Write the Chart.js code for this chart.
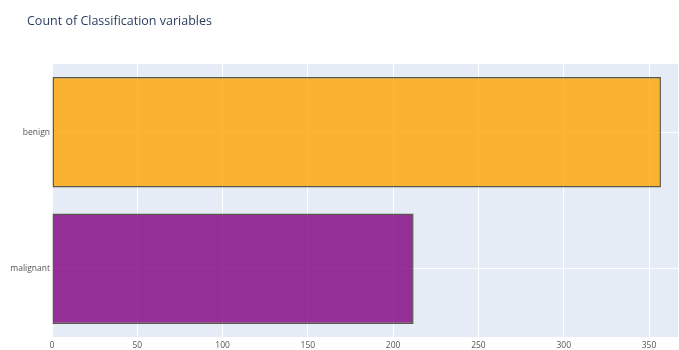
<!DOCTYPE html>
<html>
<head>
<meta charset="utf-8">
<script src="https://cdn.jsdelivr.net/npm/chart.js@4"></script>
<style>
  body { margin: 0; background: #fff; }
  #wrap { position: relative; width: 679px; height: 350px; }
  #title {
    position: absolute; left: 27px; top: 12px;
    font: 12.5px "Open Sans", sans-serif; color: #2a3f5f;
  }
</style>
</head>
<body>
<div id="wrap">
  <div id="title">Count of Classification variables</div>
  <canvas id="myChart" width="679" height="350"></canvas>
</div>
<script>
const categories = ["benign", "malignant"];
const counts = [357, 212];
const barColors = ["rgba(255, 165, 0, 0.8)", "rgba(128, 0, 128, 0.8)"];
const xTicks = [0, 50, 100, 150, 200, 250, 300, 350];

// plotly-ish plot background
const plotBg = {
  id: "plotBg",
  beforeDraw(chart) {
    const { ctx, chartArea } = chart;
    ctx.save();
    ctx.fillStyle = "#E5ECF6";
    ctx.fillRect(chartArea.left, chartArea.top, chartArea.right - chartArea.left, chartArea.bottom - chartArea.top);
    ctx.restore();
  },
};

let config = {
  type: "bar",
  data: {
    labels: categories,
    datasets: [
      {
        data: counts,
        backgroundColor: barColors,
        borderColor: "rgba(40, 40, 20, 0.75)",
        borderWidth: 1.5,
        borderSkipped: false,
        categoryPercentage: 1,
        barPercentage: 0.81,
      },
    ],
  },
  plugins: [plotBg],
  options: {
    indexAxis: "y",
    responsive: false,
    animation: false,
    layout: { padding: { top: 64, right: 1, bottom: 0, left: 0 } },
    plugins: { legend: { display: false }, tooltip: { enabled: false } },
    scales: {
      x: {
        min: 0,
        max: 367,
        afterBuildTicks: (scale) => {
          scale.ticks = xTicks.map((v) => ({ value: v }));
        },
        afterFit: (scale) => { scale.height = 13; },
        grid: { color: "#ffffff", lineWidth: 1, drawTicks: false },
        border: { display: false },
        ticks: { padding: 3, color: "#555", font: { family: "Open Sans", size: 8.5 } },
      },
      y: {
        afterFit: (scale) => { scale.width = 52; },
        grid: { color: "#ffffff", lineWidth: 1, drawTicks: false, offset: false },
        border: { display: false },
        ticks: { padding: 2, color: "#555", font: { family: "Open Sans", size: 8.5 } },
      },
    },
  },
};

const myChart = new Chart(document.getElementById("myChart"), config);
</script>
</body>
</html>
